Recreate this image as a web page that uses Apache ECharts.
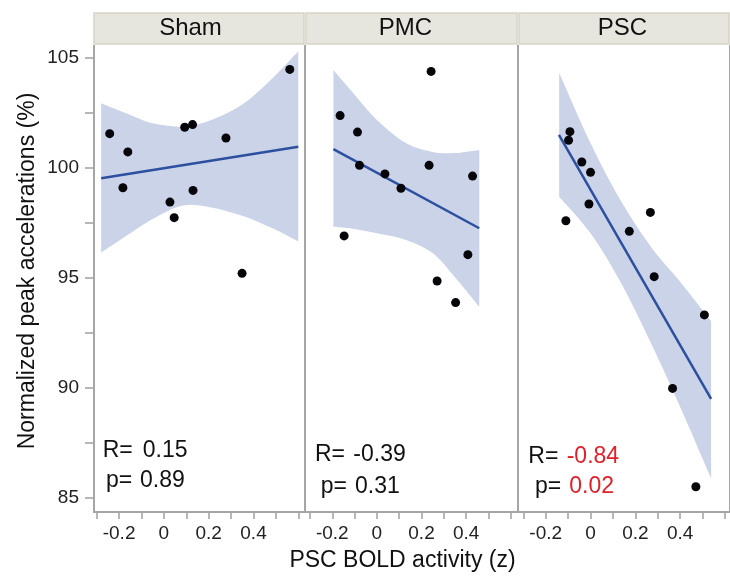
<!DOCTYPE html>
<html>
<head>
<meta charset="utf-8">
<script src="https://cdn.jsdelivr.net/npm/echarts@6/dist/echarts.min.js"></script>
<style>
  html, body { margin: 0; padding: 0; background: #fff; }
  #main { width: 730px; height: 577px; }
</style>
</head>
<body>
<div id="main"></div>
<script>
// panels
var panels = ['Sham', 'PMC', 'PSC'];
var xTickLabels = ['-0.2', '0', '0.2', '0.4'];
var yTickLabels = ['85', '90', '95', '100', '105'];

// Sham
var shamX = [-0.242, -0.161, -0.183, 0.093, 0.128, 0.277, 0.130, 0.027, 0.046, 0.562, 0.349];
var shamY = [101.53, 100.70, 99.07, 101.82, 101.94, 101.33, 98.95, 98.42, 97.71, 104.45, 95.18];
var shamFitX = [-0.28, 0.6];
var shamFitY = [99.5, 100.93];
var shamBandX = [-0.28, -0.15, -0.05, 0.08, 0.2, 0.35, 0.48, 0.6];
var shamBandUp = [102.91, 102.38, 102.0, 101.85, 102.1, 102.85, 104.0, 105.27];
var shamBandLo = [96.12, 97.0, 97.65, 98.25, 98.2, 97.8, 97.25, 96.63];

// PMC
var pmcX = [0.243, -0.165, -0.087, -0.078, 0.036, 0.108, 0.234, 0.429, -0.147, 0.408, 0.270, 0.353];
var pmcY = [104.36, 102.35, 101.60, 100.09, 99.70, 99.05, 100.09, 99.60, 96.88, 96.03, 94.83, 93.85];
var pmcFitX = [-0.195, 0.459];
var pmcFitY = [100.83, 97.23];
var pmcBandX = [-0.195, -0.1, 0.0, 0.13, 0.25, 0.35, 0.459];
var pmcBandUp = [104.42, 103.3, 102.15, 101.1, 100.7, 100.65, 100.79];
var pmcBandLo = [97.3, 97.2, 97.0, 96.7, 96.1, 95.0, 93.66];

// PSC
var pscX = [-0.092, -0.098, -0.039, 0.0, -0.007, -0.110, 0.267, 0.173, 0.284, 0.508, 0.366, 0.470];
var pscY = [101.62, 101.23, 100.24, 99.77, 98.33, 97.57, 97.95, 97.09, 95.03, 93.29, 89.95, 85.48];
var pscFitX = [-0.141, 0.538];
var pscFitY = [101.47, 89.47];
var pscBandX = [-0.14, 0.0, 0.13, 0.27, 0.40, 0.538];
var pscBandUp = [104.30, 101.1, 98.57, 96.38, 94.8, 93.01];
var pscBandLo = [98.66, 97.0, 94.85, 92.0, 89.1, 85.86];

// stats
var rLabels = ['0.15', '-0.39', '-0.84'];
var pLabels = ['0.89', '0.31', '0.02'];

var scatterX = [shamX, pmcX, pscX];
var scatterY = [shamY, pmcY, pscY];
var fitX = [shamFitX, pmcFitX, pscFitX];
var fitY = [shamFitY, pmcFitY, pscFitY];
var bandX = [shamBandX, pmcBandX, pscBandX];
var bandUp = [shamBandUp, pmcBandUp, pscBandUp];
var bandLo = [shamBandLo, pmcBandLo, pscBandLo];

function pairs(xs, ys) {
  return xs.map(function (x, i) { return [x, ys[i]]; });
}

// catmull-rom through pixel points -> cubic bezier path commands
function curvePath(pts) {
  var d = '';
  for (var k = 0; k < pts.length - 1; k++) {
    var p0 = pts[k - 1] || pts[k], p1 = pts[k], p2 = pts[k + 1], p3 = pts[k + 2] || pts[k + 1];
    var c1x = p1[0] + (p2[0] - p0[0]) / 6, c1y = p1[1] + (p2[1] - p0[1]) / 6;
    var c2x = p2[0] - (p3[0] - p1[0]) / 6, c2y = p2[1] - (p3[1] - p1[1]) / 6;
    d += ' C' + c1x + ' ' + c1y + ' ' + c2x + ' ' + c2y + ' ' + p2[0] + ' ' + p2[1];
  }
  return d;
}

var FONT = 'Liberation Sans, Arial, sans-serif';
var gridLeft = [96.7, 310, 523.3];
var gridWidth = [201.6, 200.7, 201.7];
var frameL = [94, 306, 519];
var frameR = [305, 518, 730];
var headerCx = [190.5, 405.5, 622.3];
var statX = [[102.7, 142.7, 106, 140], [315, 353.3, 320.7, 355], [528.3, 566.7, 535, 569.3]];
var statY = [[451, 481], [455, 487], [457, 487]];
var redIdx = 2;

var myChart = echarts.init(document.getElementById('main'));

var grids = [], xAxes = [], yAxes = [], series = [], graphics = [];

panels.forEach(function (name, i) {
  grids.push({ left: gridLeft[i], top: 57.3, width: gridWidth[i], height: 440 });

  xAxes.push({
    gridIndex: i, type: 'value', min: -0.3, max: 0.6, interval: 0.1, offset: 14.7,
    axisLine: { show: false, onZero: false },
    axisTick: { show: true, length: 7, lineStyle: { color: '#a0a0a0', width: 1.5 } },
    splitLine: { show: false },
    axisLabel: {
      margin: 12, fontSize: 19, color: '#222', fontFamily: FONT,
      formatter: function (v) {
        var r = Math.round(v * 10) / 10;
        var s = r === 0 ? '0' : String(r);
        return xTickLabels.indexOf(s) >= 0 ? s : '';
      }
    }
  });

  yAxes.push({
    gridIndex: i, type: 'value', min: 85, max: 105, interval: 2.5,
    show: i === 0, offset: 2.7,
    axisLine: { show: false, onZero: false },
    axisTick: { show: true, length: 9, lineStyle: { color: '#a0a0a0', width: 1.5 } },
    splitLine: { show: false },
    axisLabel: {
      margin: 15, fontSize: 19, color: '#222', fontFamily: FONT,
      formatter: function (v) {
        var s = String(Math.round(v * 10) / 10);
        return yTickLabels.indexOf(s) >= 0 ? s : '';
      }
    }
  });

  // confidence band as one closed path
  var bx = bandX[i], bu = bandUp[i], bl = bandLo[i];
  series.push({
    type: 'custom', xAxisIndex: i, yAxisIndex: i, silent: true, z: 1,
    data: bx.map(function (x, k) { return [x, bl[k], bu[k]]; }),
    renderItem: function (params, api) {
      if (params.dataIndex !== 0) return null;
      var up = bx.map(function (x, k) { return api.coord([x, bu[k]]); });
      var lo = bx.map(function (x, k) { return api.coord([x, bl[k]]); }).reverse();
      var d = 'M' + up[0][0] + ' ' + up[0][1] + curvePath(up) +
        ' L' + lo[0][0] + ' ' + lo[0][1] + curvePath(lo) + ' Z';
      return { type: 'path', shape: { pathData: d }, style: { fill: '#cbd3e8', stroke: null } };
    }
  });
  series.push({
    type: 'line', xAxisIndex: i, yAxisIndex: i,
    data: pairs(fitX[i], fitY[i]), symbol: 'none', silent: true,
    lineStyle: { color: '#2d4f9f', width: 2.5 }, z: 2
  });
  series.push({
    type: 'scatter', xAxisIndex: i, yAxisIndex: i,
    data: pairs(scatterX[i], scatterY[i]), symbolSize: 9,
    itemStyle: { color: '#05050a', opacity: 1 }, z: 3
  });

  // header strip
  graphics.push({
    type: 'rect', shape: { x: frameL[i], y: 13, width: frameR[i] - frameL[i] - 1, height: 31 },
    style: { fill: '#e7e6de', stroke: '#d6d4c8', lineWidth: 1.5 }, z: 0
  });
  graphics.push({
    type: 'text', x: headerCx[i], y: 28,
    style: { text: name, font: '24px ' + FONT, fill: '#111', textAlign: 'center', textVerticalAlign: 'middle', align: 'center', verticalAlign: 'middle' }
  });

  // panel separator on the right
  graphics.push({
    type: 'line', shape: { x1: frameR[i], y1: 45, x2: frameR[i], y2: 512 },
    style: { stroke: '#a6a6a6', lineWidth: 2 }, z: 10
  });

  // stats text
  var valColor = i === redIdx ? '#e0202a' : '#111';
  var sx = statX[i], sy = statY[i];
  [['R=', sx[0], sx[1], sy[0], rLabels[i]], ['p=', sx[2], sx[3], sy[1], pLabels[i]]].forEach(function (t) {
    graphics.push({
      type: 'text', x: t[1], y: t[3],
      style: { text: t[0], font: '23px ' + FONT, fill: '#111', textAlign: 'left', textVerticalAlign: 'middle', align: 'left', verticalAlign: 'middle' }, z: 20
    });
    graphics.push({
      type: 'text', x: t[2], y: t[3],
      style: { text: t[4], font: '23px ' + FONT, fill: valColor, textAlign: 'left', textVerticalAlign: 'middle', align: 'left', verticalAlign: 'middle' }, z: 20
    });
  });
});

// outer frame lines
graphics.push({ type: 'line', shape: { x1: 94, y1: 45, x2: 94, y2: 512 }, style: { stroke: '#a6a6a6', lineWidth: 2 }, z: 10 });
graphics.push({ type: 'line', shape: { x1: 93, y1: 512, x2: 730, y2: 512 }, style: { stroke: '#a6a6a6', lineWidth: 2 }, z: 10 });

// axis titles
graphics.push({
  type: 'text', x: 402.5, y: 561,
  style: { text: 'PSC BOLD activity (z)', font: '23px ' + FONT, fill: '#111', textAlign: 'center', textVerticalAlign: 'middle', align: 'center', verticalAlign: 'middle' }
});
graphics.push({
  type: 'text', x: 28, y: 271, rotation: Math.PI / 2,
  style: { text: 'Normalized peak accelerations (%)', font: '23px ' + FONT, fill: '#111', textAlign: 'center', textVerticalAlign: 'middle', align: 'center', verticalAlign: 'middle' }
});

var option = {
  backgroundColor: '#fff',
  animation: false,
  grid: grids,
  xAxis: xAxes,
  yAxis: yAxes,
  series: series,
  graphic: { elements: graphics }
};
myChart.setOption(option);
</script>
</body>
</html>
